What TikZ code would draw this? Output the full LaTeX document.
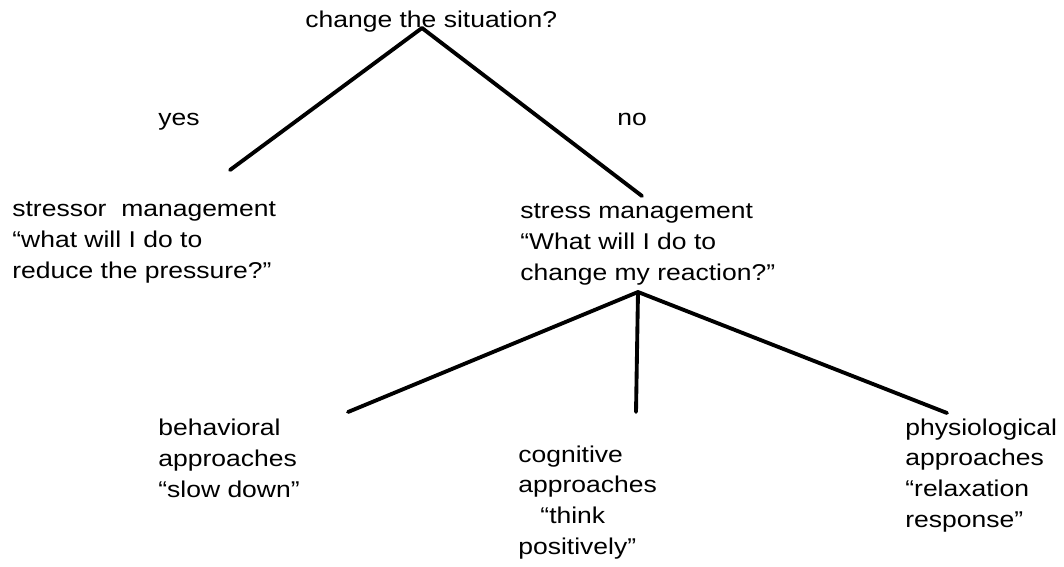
\documentclass[tikz,border=0pt]{standalone}
\usepackage{fontspec}
\setmainfont{Liberation Sans}[FakeStretch=1.16]
\tikzstyle{branchText} = [
 anchor = base west,
 inner sep = 0pt,
 align = left,
 font = \fontsize{13pt}{17.4pt}\selectfont
]
\tikzstyle{branch} = [
 line width = 2.2pt,
 line cap = round
]
\begin{document}
\begin{tikzpicture}[x=0.02cm, y=-0.02cm]
  \useasboundingbox (0,0) rectangle (1064,566);
  % texts (anchored at the baseline of their last line)
  \node [branchText] (question) at (305,27) {change the situation?};
  \node [branchText] (yes) at (158,125) {yes};
  \node [branchText] (no) at (617,125) {no};
  \node [branchText] (stressor) at (12,278) {stressor\ \ management\\“what will I do to\\reduce the pressure?”};
  \node [branchText] (stress) at (520,280) {stress management\\“What will I do to\\change my reaction?”};
  \node [branchText] (behavioral) at (158,497) {behavioral\\approaches\\“slow down”};
  \node [branchText] (cognitive) at (518,554) {cognitive\\approaches\\\ \ \ “think\\positively”};
  \node [branchText] (physiological) at (905,527) {physiological\\approaches\\“relaxation\\response”};
  % joints and ends
  \coordinate (top) at (422,28);
  \coordinate (yesEnd) at (230,170);
  \coordinate (noEnd) at (642,196);
  \coordinate (fork) at (638,292);
  \coordinate (behavioralEnd) at (348,412);
  \coordinate (cognitiveEnd) at (636,412);
  \coordinate (physiologicalEnd) at (947,413);
  % branches
  \draw [branch] (top) -- (yesEnd);
  \draw [branch] (top) -- (noEnd);
  \draw [branch] (fork) -- (behavioralEnd);
  \draw [branch] (fork) -- (cognitiveEnd);
  \draw [branch] (fork) -- (physiologicalEnd);
\end{tikzpicture}
\end{document}
